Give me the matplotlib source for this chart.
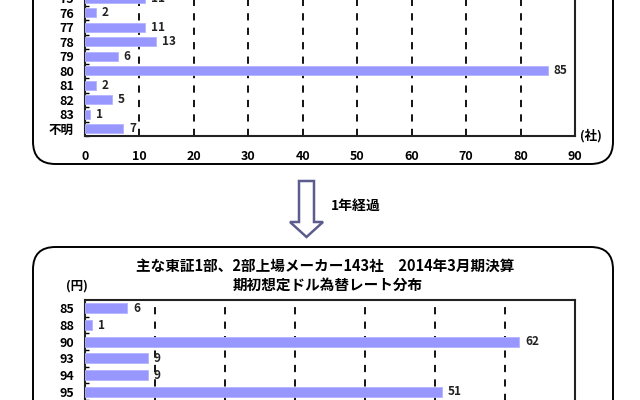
import matplotlib
matplotlib.use("Agg")
import matplotlib.pyplot as plt
from matplotlib.patches import FancyBboxPatch, Polygon

plt.rcParams['font.family'] = ['Noto Sans CJK JP', 'DejaVu Sans']

# data
top_labels = ['75', '76', '77', '78', '79', '80', '81', '82', '83', '不明']
top_values = [11, 2, 11, 13, 6, 85, 2, 5, 1, 7]
bottom_labels = ['85', '88', '90', '93', '94', '95']
bottom_values = [6, 1, 62, 9, 9, 51]
top_ticks = [0, 10, 20, 30, 40, 50, 60, 70, 80, 90]
bottom_ticks = [0, 10, 20, 30, 40, 50, 60, 70]
title_lines = ['主な東証1部、2部上場メーカー143社　2014年3月期決算', '期初想定ドル為替レート分布']

W, H = 640, 400
bar_color = '#9797ff'


def fx(x):
    return x / W


def fy(y):
    return 1 - y / H


fig = plt.figure(figsize=(6.4, 4.0), dpi=100)

# rounded panel frames
for y0, y1 in [(-60, 164), (247, 470)]:
    box = FancyBboxPatch((fx(33), fy(y1)), fx(613) - fx(33), fy(y0) - fy(y1),
                         boxstyle="round,pad=0,rounding_size=0.035",
                         transform=fig.transFigure, fill=False, lw=1.4, ec='black',
                         mutation_aspect=W / H)
    fig.patches.append(box)


def draw_panel(ax, labels, values, ticks, xmax, ylow, show_xlabels):
    pos = list(range(len(labels)))
    ax.barh(pos, values, height=0.6, color=bar_color, edgecolor='#b4b4ff', lw=0.6, zorder=3)
    for p, v in zip(pos, values):
        ax.text(v + xmax * 0.012, p, str(v), va='center', ha='left', fontsize=8.5,
                fontweight='bold', color='#222222', zorder=4)
    ax.set_xlim(0, xmax)
    ax.set_ylim(ylow, -0.5)
    ax.set_yticks(pos)
    ax.set_yticklabels(labels, fontsize=9, fontweight='bold')
    ax.set_yticks([p + 0.5 for p in pos], minor=True)
    ax.tick_params(axis='y', which='major', length=0, pad=8)
    ax.tick_params(axis='y', which='minor', length=3, direction='in', width=1)
    ax.set_xticks(ticks)
    if show_xlabels:
        ax.set_xticklabels([str(t) for t in ticks], fontsize=9, fontweight='bold')
        ax.tick_params(axis='x', length=0, pad=10)
    else:
        ax.set_xticklabels([])
        ax.tick_params(axis='x', length=0)
    for t in ticks[1:-1]:
        ax.axvline(t, color='black', ls=(0, (4, 4)), lw=1.3, zorder=2)
    for s in ax.spines.values():
        s.set_linewidth(1.5)
        s.set_color('#222222')


# top panel (cut off at the top of the picture)
ax1 = fig.add_axes([fx(85), fy(136), fx(575) - fx(85), 10 * 14.5 / H])
draw_panel(ax1, top_labels, top_values, top_ticks, 90, 9.5, True)
fig.text(fx(580), fy(136), '(社)', fontsize=9, fontweight='bold', va='center', ha='left')

# arrow and caption
arrow = Polygon([(fx(299), fy(181)), (fx(314), fy(181)), (fx(314), fy(222)),
                 (fx(323), fy(222)), (fx(306.5), fy(237)), (fx(290), fy(222)),
                 (fx(299), fy(222))], closed=True, transform=fig.transFigure,
                facecolor='white', edgecolor='#5c5c8e', lw=1.8)
fig.patches.append(arrow)
fig.text(fx(331), fy(206), '1年経過', fontsize=10, fontweight='bold', va='center', ha='left')

# bottom panel (cut off at the bottom of the picture)
fig.text(fx(325), fy(266), title_lines[0], fontsize=10.5, fontweight='bold', va='center', ha='center')
fig.text(fx(328), fy(285), title_lines[1], fontsize=10.5, fontweight='bold', va='center', ha='center')
fig.text(fx(77), fy(286), '(円)', fontsize=9, fontweight='bold', va='center', ha='center')
ax2 = fig.add_axes([fx(85), fy(300 + 6.5 * 16.7), fx(575) - fx(85), 6.5 * 16.7 / H])
draw_panel(ax2, bottom_labels, bottom_values, bottom_ticks, 70, 6.0, False)

fig.savefig('out.png', dpi=100)
